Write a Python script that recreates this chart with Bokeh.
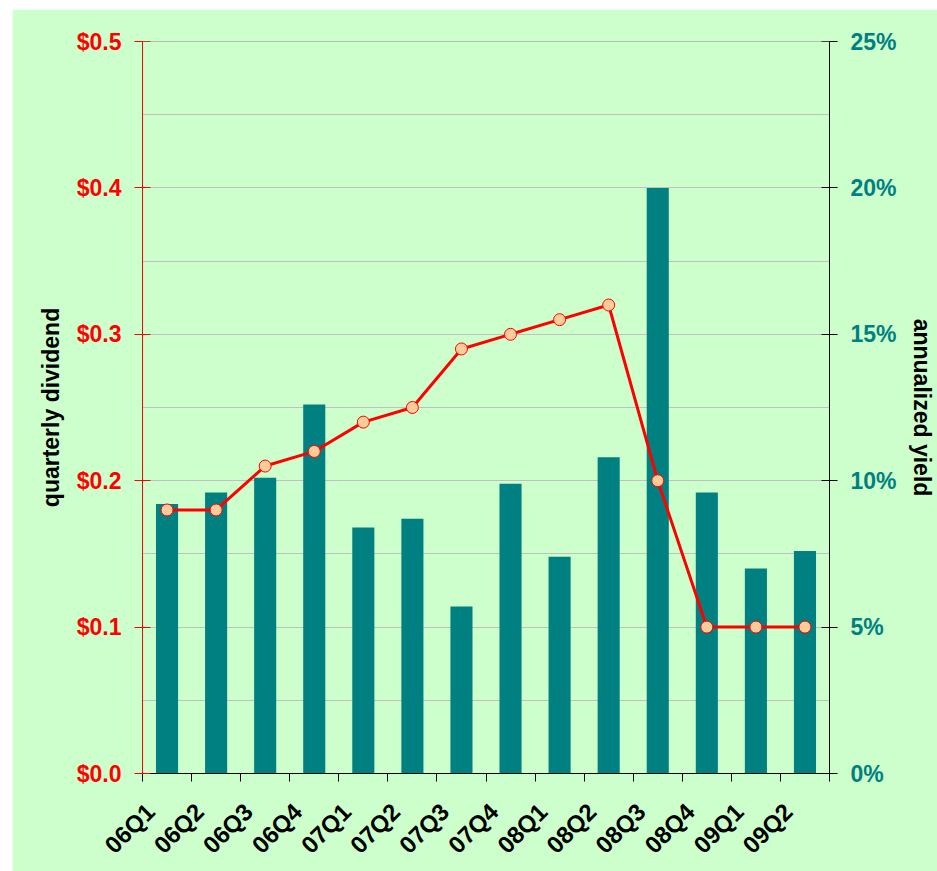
import math
from bokeh.plotting import figure
from bokeh.models import (Range1d, LinearAxis, FixedTicker, PrintfTickFormatter,
                          Span, ColumnDataSource)
from bokeh.embed import file_html
from bokeh.resources import INLINE

quarters = ["06Q1", "06Q2", "06Q3", "06Q4", "07Q1", "07Q2", "07Q3", "07Q4",
            "08Q1", "08Q2", "08Q3", "08Q4", "09Q1", "09Q2"]
yield_pct = [9.2, 9.6, 10.1, 12.6, 8.4, 8.7, 5.7, 9.9, 7.4, 10.8, 20.0, 9.6, 7.0, 7.6]
dividend = [0.18, 0.18, 0.21, 0.22, 0.24, 0.25, 0.29, 0.30, 0.31, 0.32, 0.20, 0.10, 0.10, 0.10]

FONT = "Liberation Sans"
BG = "#CCFFCC"
TEAL = "#008080"

n = len(quarters)
xs = [i + 0.5 for i in range(n)]
src = ColumnDataSource(dict(x=xs, q=quarters, yld=yield_pct, div=dividend))

p = figure(width=925, height=862, output_backend="svg", toolbar_location=None,
           x_range=Range1d(0, n), y_range=Range1d(0, 0.5),
           min_border_left=130, min_border_right=108, min_border_top=32,
           min_border_bottom=97, background_fill_color=BG, border_fill_color=BG,
           outline_line_color=None)
p.margin = (9, 0, 0, 12)
p.extra_y_ranges = {"y2": Range1d(0, 25)}

# grid
p.xgrid.visible = False
p.ygrid.ticker = FixedTicker(ticks=[0.05 * k for k in range(1, 10)])
p.ygrid.grid_line_color = "#C0C0C4"
p.ygrid.grid_line_width = 1
p.add_layout(Span(location=0.5, dimension="width", line_color="#808080", line_width=1))

# bars (annualized yield, right axis)
p.vbar(x="x", top="yld", width=0.45, source=src, y_range_name="y2",
       fill_color=TEAL, line_color=None)

# line (quarterly dividend, left axis)
p.line(x="x", y="div", source=src, line_color="red", line_width=3)
p.scatter(x="x", y="div", source=src, size=12, fill_color="#FFCC99",
          line_color="red", line_width=1)

# x axis
xa = p.xaxis[0]
label_pos = [i + 0.16 for i in range(n)]
xa.ticker = FixedTicker(ticks=label_pos, minor_ticks=list(range(n + 1)))
xa.major_label_overrides = {t: q for t, q in zip(label_pos, quarters)}
xa.major_label_orientation = math.pi / 4
xa.major_tick_out = 0
xa.major_tick_in = 0
xa.minor_tick_out = 8
xa.minor_tick_in = 0
xa.minor_tick_line_color = "black"
xa.axis_line_color = "black"
xa.major_label_text_font = FONT
xa.major_label_text_font_style = "bold"
xa.major_label_text_font_size = "24px"
xa.major_label_text_color = "black"
xa.major_label_standoff = 26

# left axis
ya = p.yaxis[0]
ya.ticker = FixedTicker(ticks=[0, 0.1, 0.2, 0.3, 0.4, 0.5])
ya.formatter = PrintfTickFormatter(format="$%.1f")
ya.axis_line_color = "red"
ya.major_tick_line_color = "red"
ya.major_tick_in = 8
ya.major_tick_out = 8
ya.minor_tick_line_color = None
ya.major_label_text_color = "red"
ya.major_label_text_font = FONT
ya.major_label_text_font_style = "bold"
ya.major_label_text_font_size = "23px"
ya.major_label_standoff = 13
ya.axis_label = "quarterly dividend"
ya.axis_label_text_font = FONT
ya.axis_label_text_font_style = "bold"
ya.axis_label_text_font_size = "23px"
ya.axis_label_text_color = "black"
ya.axis_label_standoff = 10

# right axis
ra = LinearAxis(y_range_name="y2", ticker=FixedTicker(ticks=[0, 5, 10, 15, 20, 25]),
                formatter=PrintfTickFormatter(format="%d%%"))
ra.axis_line_color = "black"
ra.major_tick_line_color = "black"
ra.major_tick_in = 8
ra.major_tick_out = 8
ra.minor_tick_line_color = None
ra.major_label_text_color = TEAL
ra.major_label_text_font = FONT
ra.major_label_text_font_style = "bold"
ra.major_label_text_font_size = "23px"
ra.major_label_standoff = 13
ra.axis_label = "annualized yield"
ra.axis_label_text_font = FONT
ra.axis_label_text_font_style = "bold"
ra.axis_label_text_font_size = "23px"
ra.axis_label_text_color = "black"
ra.axis_label_standoff = 9
p.add_layout(ra, "right")

open("out.html", "w").write(file_html(p, INLINE))
